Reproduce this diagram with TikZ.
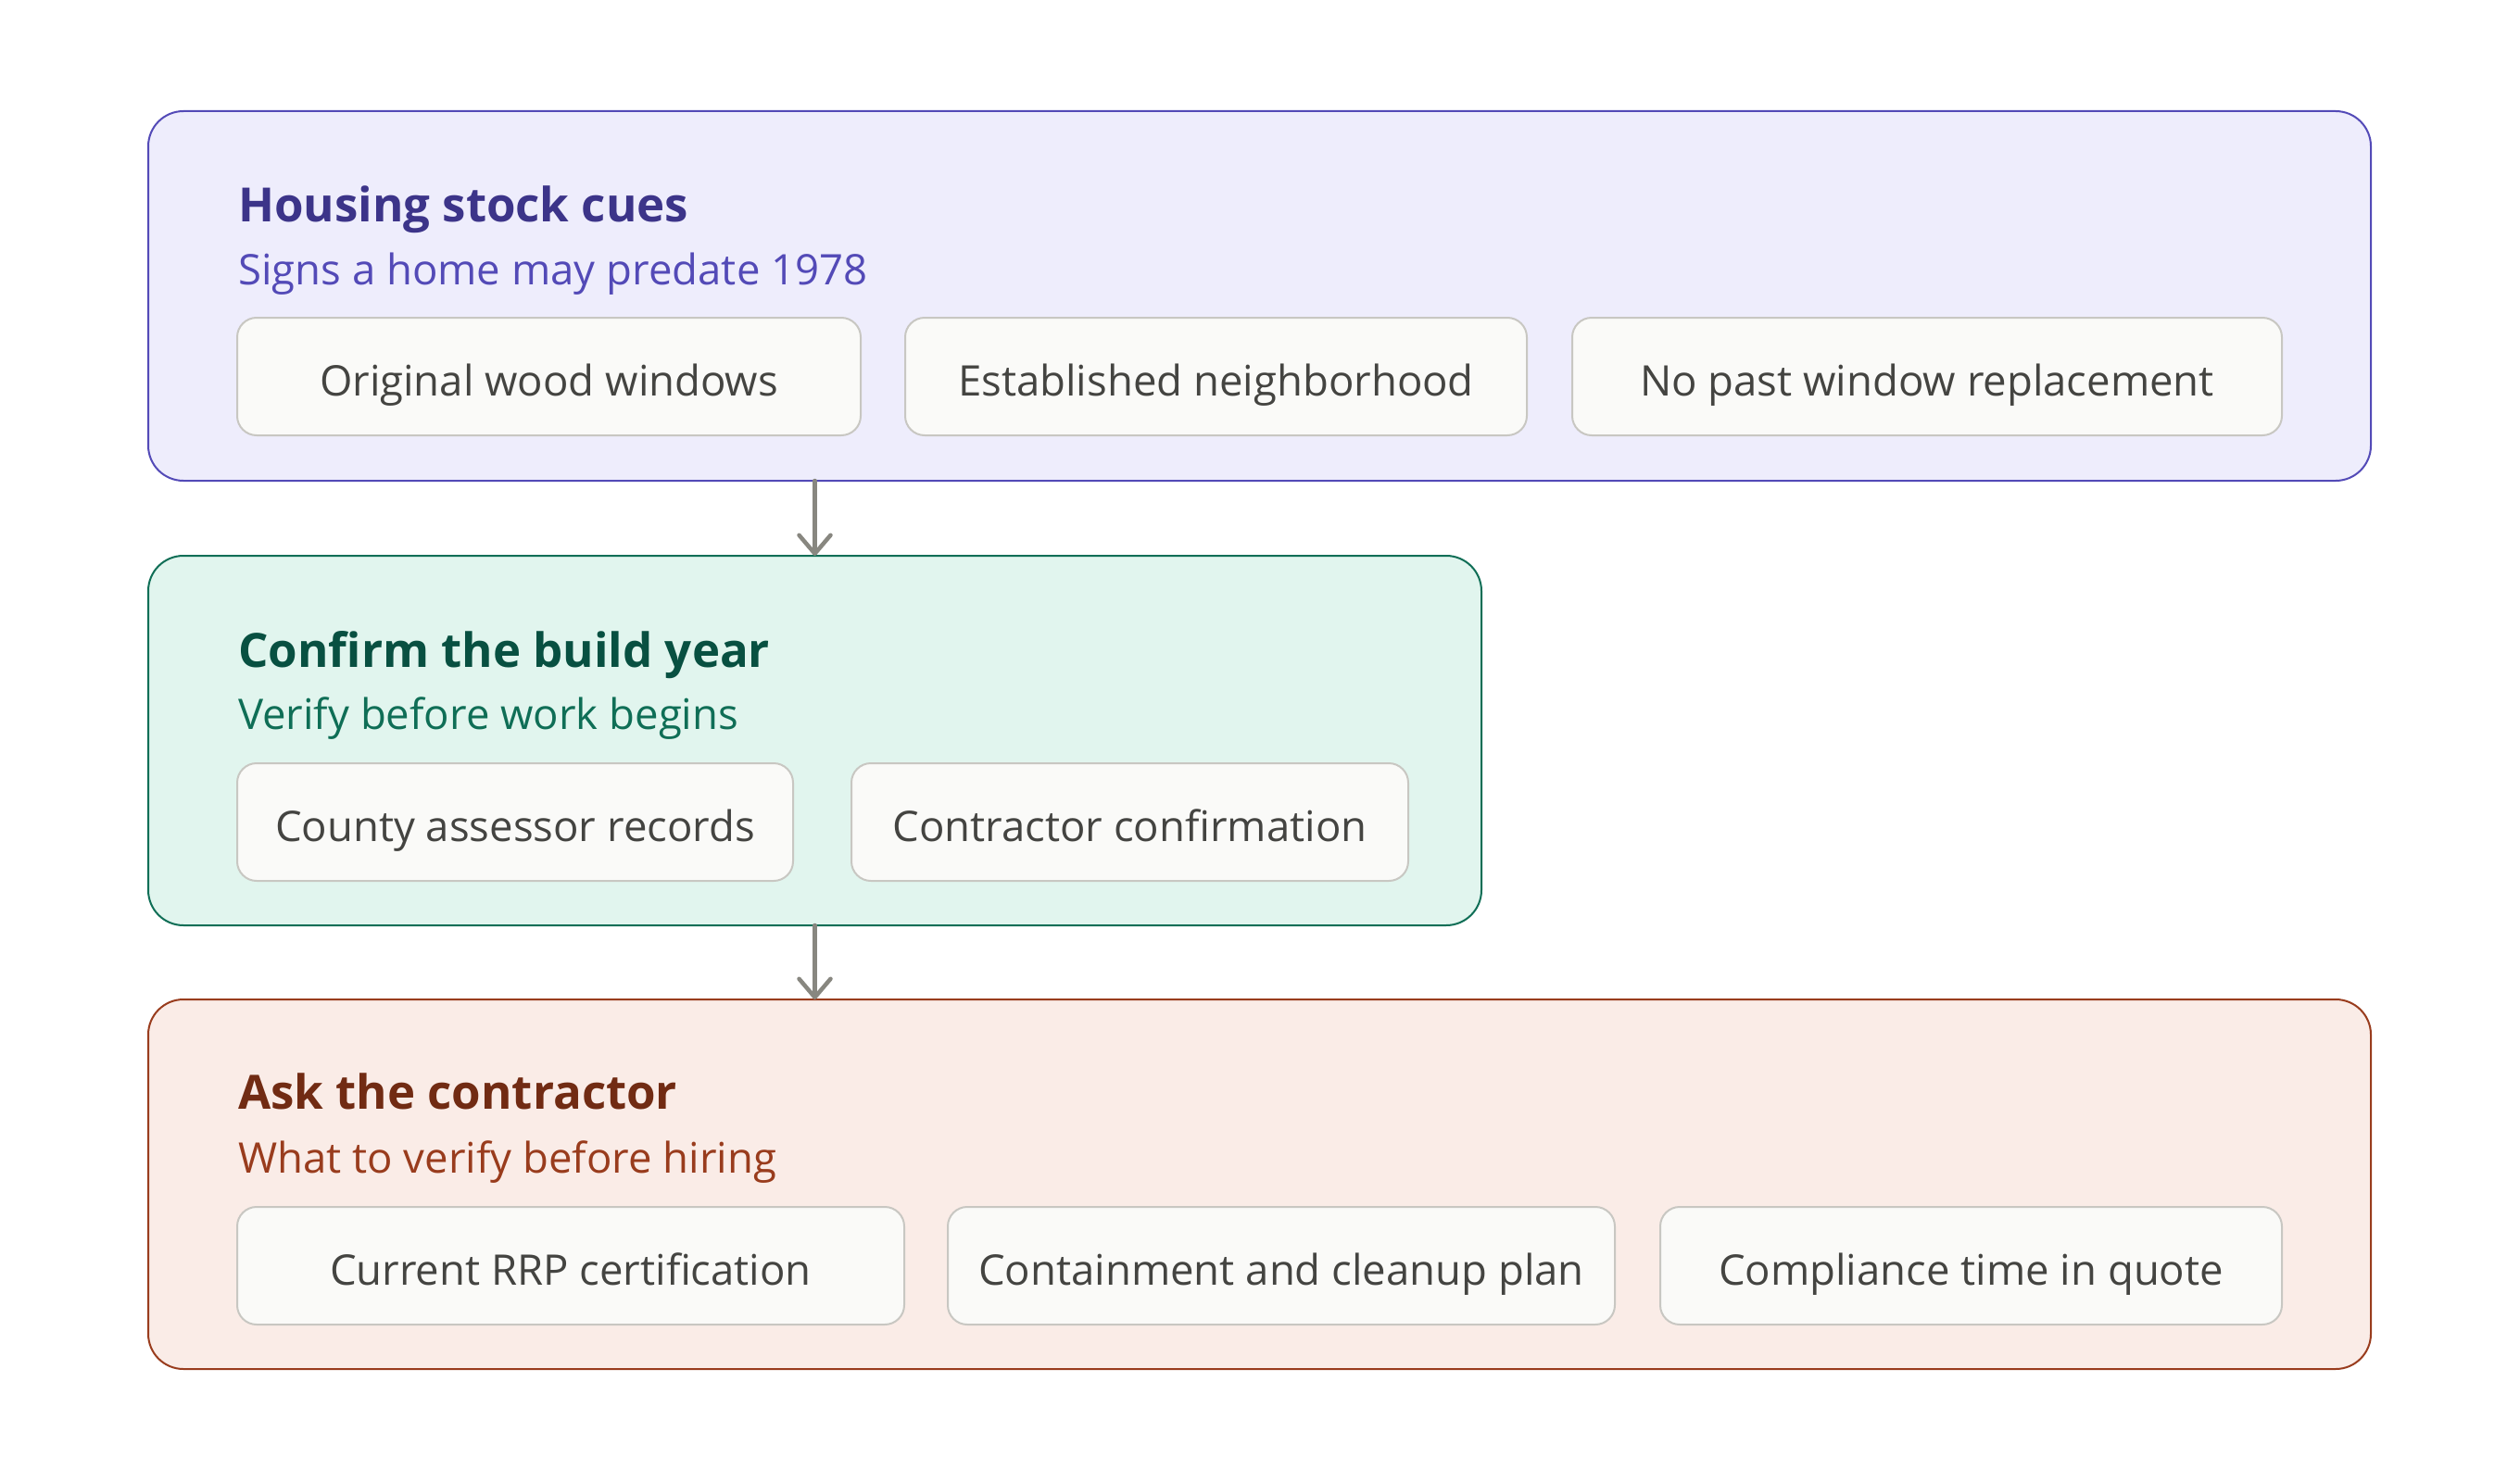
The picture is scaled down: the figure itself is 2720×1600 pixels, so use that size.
\documentclass[tikz,border=0pt]{standalone}
\usepackage{fontspec}
\setmainfont{Open Sans}
\usetikzlibrary{arrows.meta}
\definecolor{pFill}{HTML}{EEEDFC}
\definecolor{pLine}{HTML}{534AB7}
\definecolor{pTitle}{HTML}{3C3489}
\definecolor{tFill}{HTML}{E1F5EE}
\definecolor{tLine}{HTML}{0F6E56}
\definecolor{tTitle}{HTML}{085041}
\definecolor{cFill}{HTML}{FAECE7}
\definecolor{cLine}{HTML}{993C1D}
\definecolor{cTitle}{HTML}{712B13}
\definecolor{pillFill}{HTML}{FAFAF8}
\definecolor{pillLine}{HTML}{C8C7C2}
\definecolor{pillText}{HTML}{444441}
\definecolor{arrowGray}{HTML}{888780}
\tikzset{
  panel/.style={rectangle, rounded corners=38pt, line width=2pt, inner sep=0pt, outer sep=0pt, anchor=north west},
  pill/.style={rectangle, rounded corners=21pt, line width=2pt, draw=pillLine, fill=pillFill, text=pillText, inner sep=0pt, outer sep=0pt, minimum height=127pt, text height=46pt, text depth=5pt, anchor=north west, font=\fontsize{45.5}{50}\selectfont},
  ttl/.style={anchor=base west, inner sep=0pt, font=\fontsize{51}{56}\selectfont\bfseries},
  sub/.style={anchor=base west, inner sep=0pt, font=\fontsize{45.5}{50}\selectfont},
  flow/.style={draw=arrowGray, line width=4.5pt, line cap=round, -{Straight Barb[length=20pt, width=34pt, round]}}
}
\begin{document}
\begin{tikzpicture}[x=1pt, y=-1pt]
\useasboundingbox (0,0) rectangle (2720,1600);
% panel 1
\node[panel, draw=pLine, fill=pFill, minimum width=2399pt, minimum height=399pt] (b1) at (160,120) {};
\node[ttl, text=pTitle] (t1) at (257,239) {Housing stock cues};
\node[sub, text=pLine] (s1) at (257,307) {Signs a home may predate 1978};
\node[pill, minimum width=673pt] (p11) at (256,343) {Original wood windows};
\node[pill, minimum width=671pt] (p12) at (977,343) {Established neighborhood};
\node[pill, minimum width=766pt] (p13) at (1697,343) {No past window replacement};
% panel 2
\node[panel, draw=tLine, fill=tFill, minimum width=1439pt, minimum height=399pt] (b2) at (160,600) {};
\node[ttl, text=tTitle] (t2) at (257,720) {Confirm the build year};
\node[sub, text=tLine] (s2) at (257,787) {Verify before work begins};
\node[pill, minimum width=600pt] (p21) at (256,824) {County assessor records};
\node[pill, minimum width=601pt] (p22) at (919,824) {Contractor confirmation};
% panel 3
\node[panel, draw=cLine, fill=cFill, minimum width=2399pt, minimum height=399pt] (b3) at (160,1079) {};
\node[ttl, text=cTitle] (t3) at (257,1197) {Ask the contractor};
\node[sub, text=cLine] (s3) at (257,1266) {What to verify before hiring};
\node[pill, minimum width=720pt] (p31) at (256,1303) {Current RRP certification};
\node[pill, minimum width=720pt] (p32) at (1023,1303) {Containment and cleanup plan};
\node[pill, minimum width=671pt] (p33) at (1792,1303) {Compliance time in quote};
% connectors
\draw[flow] (b1.south -| b2.north) -- (b2.north);
\draw[flow] (b2.south) -- (b3.north -| b2.south);
\end{tikzpicture}
\end{document}
